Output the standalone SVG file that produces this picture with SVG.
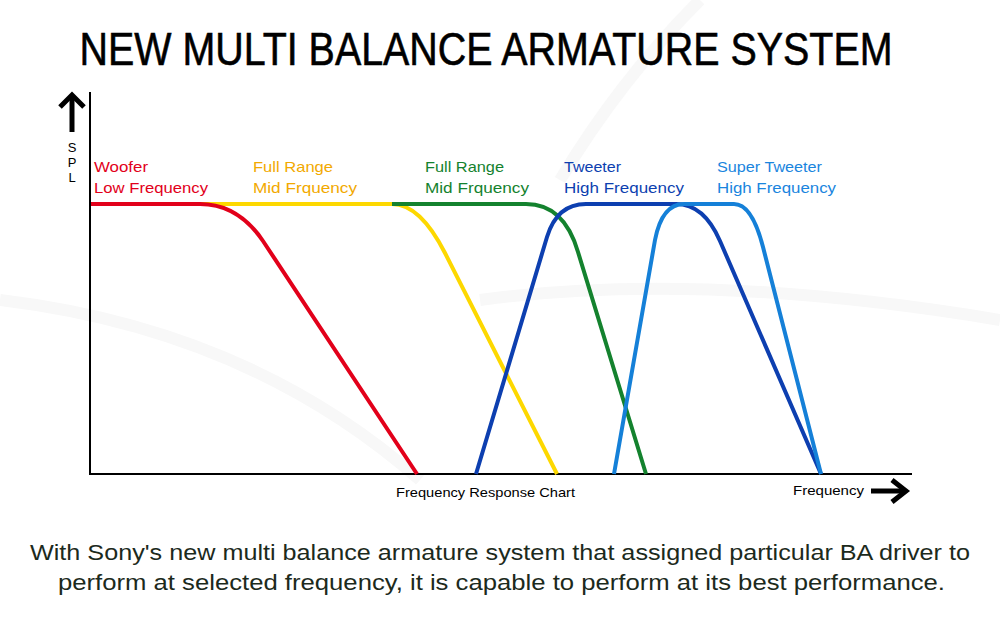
<svg xmlns="http://www.w3.org/2000/svg" width="1000" height="620" viewBox="0 0 1000 620">
<style>
text{font-family:"Liberation Sans","DejaVu Sans",Arial,sans-serif}
.curve{fill:none;stroke-width:4;stroke-linecap:butt;stroke-linejoin:round}
.lbl{font-size:15px}
.axis{stroke:#000;stroke-width:2;fill:none}
.arr{stroke:#000;stroke-width:5;fill:none}
</style>
<rect width="1000" height="620" fill="#ffffff"/>
<g id="watermark" fill="none" stroke="#f8f8f8" stroke-width="12">
<path d="M0,300 Q250,330 420,480"/>
<path d="M480,300 Q700,270 1000,320"/>
<path d="M700,0 Q620,80 560,180"/>
</g>
<text id="title" x="486" y="65" font-size="46" text-anchor="middle" textLength="813" lengthAdjust="spacingAndGlyphs" fill="#000" stroke="#000" stroke-width="0.6">NEW MULTI BALANCE ARMATURE SYSTEM</text>
<g id="axes">
<line class="axis" x1="90" y1="92" x2="90" y2="474"/>
<line class="axis" x1="89" y1="474" x2="912" y2="474"/>
<path class="arr" d="M72,96 V132"/>
<path class="arr" d="M60,107 L72,95 L84,107"/>
<g font-size="13" fill="#000" text-anchor="middle">
<text x="72" y="152">S</text>
<text x="72" y="167">P</text>
<text x="72" y="182">L</text>
</g>
<path class="arr" d="M871,491 H906"/>
<path class="arr" stroke-width="6" d="M892,480 L906,491 L892,502"/>
<text x="793" y="495" font-size="13" textLength="71" lengthAdjust="spacingAndGlyphs" fill="#000">Frequency</text>
<text x="396" y="497" font-size="13" textLength="179" lengthAdjust="spacingAndGlyphs" fill="#000">Frequency Response Chart</text>
</g>
<g id="connectors">
<path id="full-range-1-curve" class="curve" stroke="#fdd800" d="M200,204 H392 Q420,204 445,253 L557,474"/>
<path id="woofer-curve" class="curve" stroke="#e2001a" d="M91,204 H200 Q238,204 263,241 L417,474"/>
<path id="full-range-2-curve" class="curve" stroke="#14822e" d="M392,204 H526 Q564,204 578,252 L646,474"/>
<path id="tweeter-curve" class="curve" stroke="#0d3fb0" d="M476,474 L547,237 Q557,204 586,204 H676 Q704,204 720,241 L821,474"/>
<path id="super-tweeter-curve" class="curve" stroke="#1580d8" d="M614,474 L655,240 Q662,204 684,204 H734 Q752,204 763,247 L821,474"/>
</g>
<g id="woofer" fill="#e2001a" class="lbl">
<text x="94" y="172" textLength="54" lengthAdjust="spacingAndGlyphs">Woofer</text>
<text x="94" y="193" textLength="114" lengthAdjust="spacingAndGlyphs">Low Frequency</text>
</g>
<g id="full-range-1" fill="#f2a900" class="lbl">
<text x="253" y="172" textLength="80" lengthAdjust="spacingAndGlyphs">Full Range</text>
<text x="253" y="193" textLength="104" lengthAdjust="spacingAndGlyphs">Mid Frquency</text>
</g>
<g id="full-range-2" fill="#14822e" class="lbl">
<text x="425" y="172" textLength="79" lengthAdjust="spacingAndGlyphs">Full Range</text>
<text x="425" y="193" textLength="104" lengthAdjust="spacingAndGlyphs">Mid Frquency</text>
</g>
<g id="tweeter" fill="#0d3fb0" class="lbl">
<text x="564" y="172" textLength="57" lengthAdjust="spacingAndGlyphs">Tweeter</text>
<text x="564" y="193" textLength="120" lengthAdjust="spacingAndGlyphs">High Frequency</text>
</g>
<g id="super-tweeter" fill="#1a85de" class="lbl">
<text x="717" y="172" textLength="105" lengthAdjust="spacingAndGlyphs">Super Tweeter</text>
<text x="717" y="193" textLength="119" lengthAdjust="spacingAndGlyphs">High Frequency</text>
</g>
<g id="caption" fill="#1c2a1c" font-size="22">
<text x="30" y="560" textLength="940" lengthAdjust="spacingAndGlyphs">With Sony's new multi balance armature system that assigned particular BA driver to</text>
<text x="58" y="590" textLength="887" lengthAdjust="spacingAndGlyphs">perform at selected frequency, it is capable to perform at its best performance.</text>
</g>
</svg>
